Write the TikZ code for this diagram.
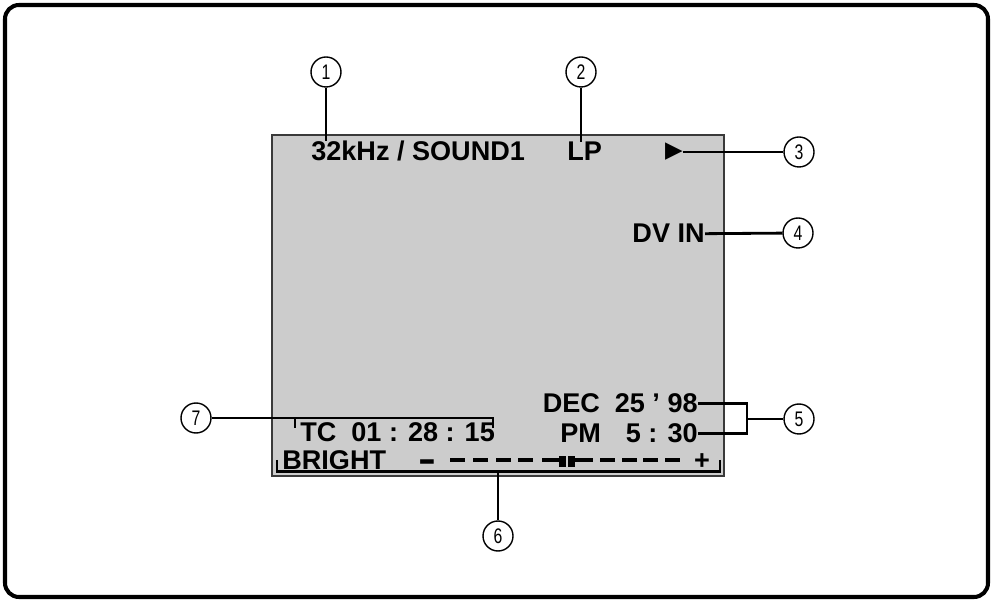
\documentclass[tikz,border=0pt]{standalone}
\usepackage{fontspec}
\usepackage{graphicx}
\setmainfont{Liberation Sans}
\newfontfamily\symfont{DejaVu Sans}

\begin{document}
\begin{tikzpicture}[
  lbl/.style={font=\fontsize{15.4}{18}\selectfont\bfseries,inner sep=0pt},
  callout/.style={circle,draw,line width=0.8pt,minimum size=0.6cm,inner sep=0pt,font=\fontsize{12}{14}\selectfont},
  lead/.style={line width=1.6pt}]
\definecolor{SCREEN}{HTML}{CCCCCC}
\definecolor{EDGE}{HTML}{3A3A3A}
\useasboundingbox (0,0) rectangle (19.86,12.04);
\draw[line width=2.3pt,rounded corners=0.28cm] (0.10,0.10) rectangle (19.76,11.94);
\fill[SCREEN,draw=EDGE,line width=0.6pt] (5.44,2.52) rectangle (14.48,9.34);
% callouts
\foreach \n/\x/\y in {1/6.52/10.60,2/11.62/10.60,3/15.98/9.00,4/15.96/7.38,5/15.98/3.66,6/9.96/1.32,7/3.92/3.68}{\node[callout] (c\n) at (\x,\y) {\scalebox{0.75}[1]{\n}};}
% screen texts
\node[lbl,anchor=base west] (sound) at (6.22,8.82) {32kHz / SOUND1};
\node[lbl,anchor=base west] (lp) at (11.34,8.82) {LP};
\node[inner sep=0pt,font=\symfont\fontsize{13}{14}\selectfont] (play) at (13.48,9.00) {▶};
\node[lbl,anchor=base east] (dvin) at (14.10,7.18) {DV IN};
\node[lbl,anchor=base east] (date) at (13.96,3.78) {DEC\hspace{0.3cm}25 ’ 98};
\node[lbl,anchor=base east] (time) at (13.96,3.18) {PM\hspace{0.5cm}5 : 30};
\node[lbl,anchor=base west] (tc) at (6.00,3.20) {TC\hspace{0.3cm}01 : 28 : 15};
\node[lbl,anchor=base west] (bright) at (5.64,2.64) {BRIGHT};
\node[lbl,anchor=base] (minus) at (8.55,2.53) {\scalebox{1}[1.5]{−}};
\node[lbl,anchor=base] (plus) at (14.04,2.64) {+};
% brightness scale
\foreach \a/\b in {9.00/9.30,9.46/9.76,9.92/10.22,10.36/10.66,10.84/11.18,11.48/11.86,12.00/12.30,12.44/12.74,12.86/13.16,13.30/13.60}{\draw[line width=2.3pt] (\a,2.84) -- (\b,2.84);}
\fill (11.17,2.69) rectangle (11.31,2.92);
\fill (11.35,2.69) rectangle (11.49,2.92);
% leaders
\coordinate (k5) at (14.94,3.66);
\coordinate (k7l) at (5.90,3.68);
\coordinate (k7r) at (9.86,3.68);
\coordinate (k6l) at (5.54,2.61);
\coordinate (k6r) at (14.40,2.61);
\coordinate (k6) at (9.96,2.61);
\draw[lead] (c1) -- (c1 |- sound.north);
\draw[lead] (c2) -- (c2 |- lp.north);
\draw[lead] (play.east) -- (c3);
\draw[lead] (dvin.east) -- (c4);
\draw[lead] (date.east) -- (date.east -| k5) -- (time.east -| k5) -- (time.east);
\draw[lead] (k5) -- (c5);
\draw[lead] (c7) -- (k7r) -- ++(0,-0.2);
\draw[lead] (k7l) -- ++(0,-0.2);
\draw[lead] (k6l) ++(0,0.23) -- (k6l) -- (k6r) -- ++(0,0.23);
\draw[lead] (k6) -- (c6);
\end{tikzpicture}
\end{document}
